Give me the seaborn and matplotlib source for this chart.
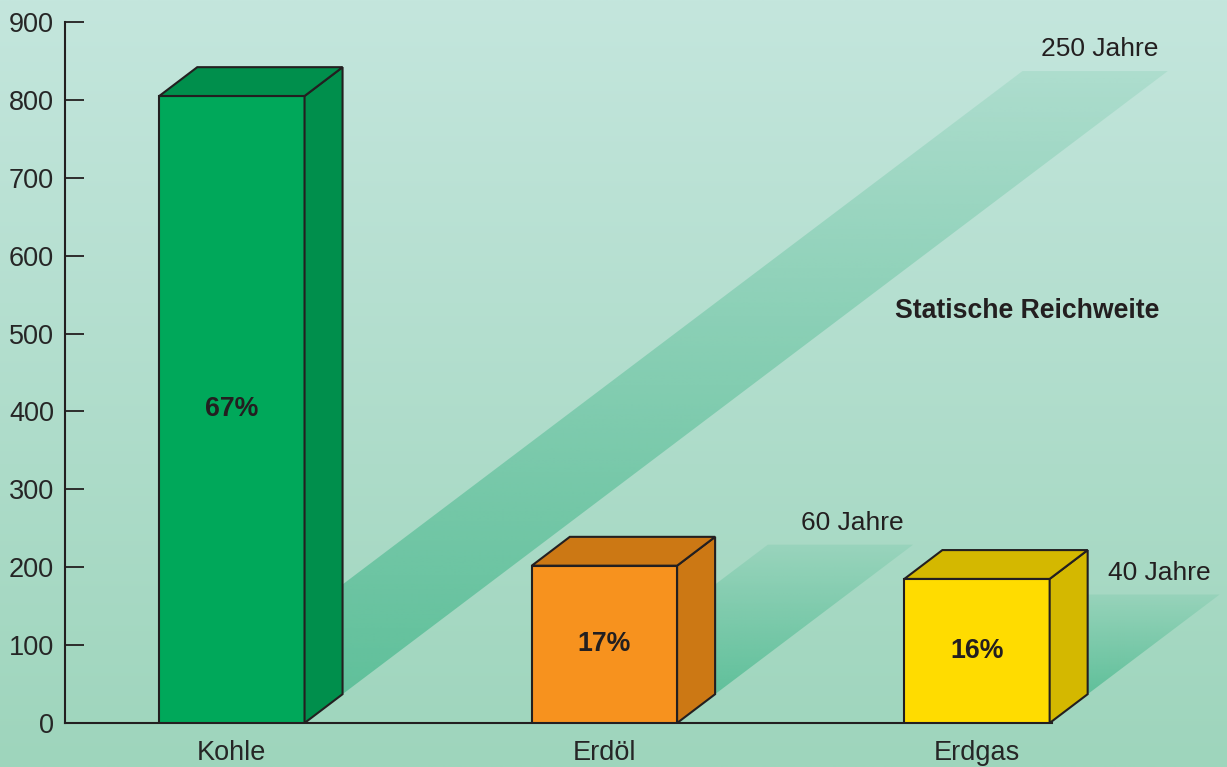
import matplotlib
matplotlib.use("Agg")
import matplotlib.pyplot as plt
from matplotlib.patches import Polygon
import numpy as np
import seaborn as sns

# data
categories = ["Kohle", "Erdöl", "Erdgas"]
reserves = [805, 202, 185]
shares = ["67%", "17%", "16%"]
reach_years = [250, 60, 40]
reach_labels = ["250 Jahre", "60 Jahre", "40 Jahre"]

front_colors = ["#00a85a", "#f7921e", "#ffdc00"]
side_colors = ["#008f4c", "#cc7814", "#d4b800"]
edge = "#231f20"

sns.set_style("white")
plt.rcParams["font.family"] = ["Liberation Sans", "DejaVu Sans"]
plt.rcParams["text.color"] = edge

fig = plt.figure(figsize=(12.27, 7.67), dpi=100)

# background gradient
bg = fig.add_axes([0, 0, 1, 1], zorder=0)
top_c = np.array([196, 230, 221]) / 255
bot_c = np.array([158, 213, 188]) / 255
t = np.linspace(0, 1, 256)[:, None]
grad = top_c[None, None, :] * (1 - t[..., None]) + bot_c[None, None, :] * t[..., None]
bg.imshow(np.repeat(grad, 2, axis=1), aspect="auto", extent=[0, 1, 0, 1])
bg.axis("off")

ax = fig.add_axes([65 / 1227, 44 / 767, 1162 / 1227, 701 / 767], zorder=1)
ax.patch.set_alpha(0)

sns.barplot(x=categories, y=reserves, hue=categories, palette=front_colors,
            width=0.39, edgecolor=edge, linewidth=1.5, legend=False,
            saturation=1, ax=ax, zorder=4)

ax.set_xlim(-0.448, 2.671)
ax.set_ylim(0, 900)

# depth of the 3d boxes and slope of the ribbons
dx, dy = 0.102, 37.0
kx, ky = 0.00886, 3.2

rib_rgb = np.array([60, 180, 135]) / 255
for i, p in enumerate(ax.patches[:3]):
    x0, w, h = p.get_x(), p.get_width(), p.get_height()
    x1 = x0 + w
    side = Polygon([(x1, 0), (x1 + dx, dy), (x1 + dx, h + dy), (x1, h)],
                   closed=True, fc=side_colors[i], ec=edge, lw=1.5, zorder=4)
    top = Polygon([(x0, h), (x0 + dx, h + dy), (x1 + dx, h + dy), (x1, h)],
                  closed=True, fc=side_colors[i], ec=edge, lw=1.5, zorder=4)
    ax.add_patch(side)
    ax.add_patch(top)

    # ribbon for the static range
    yrs = reach_years[i]
    rx, ry = yrs * kx, yrs * ky
    verts = [(x0 + dx, dy), (x1 + dx, dy), (x1 + dx + rx, dy + ry), (x0 + dx + rx, dy + ry)]
    rib = Polygon(verts, closed=True, fc="none", ec="none")
    ax.add_patch(rib)
    tt = np.linspace(0, 1, 200)[:, None]
    alpha = 0.14 + 0.5 * tt
    img = np.zeros((200, 2, 4))
    img[..., :3] = rib_rgb
    img[..., 3] = alpha
    im = ax.imshow(img, aspect="auto", extent=[x0 + dx, x1 + dx + rx, dy, dy + ry],
                   zorder=2, interpolation="bilinear")
    im.set_clip_path(rib)

    ax.text(x1 + dx + rx - 0.025, dy + ry + 19, reach_labels[i],
            ha="right", va="baseline", fontsize=19)
    ax.text(x0 + w / 2, h / 2, shares[i], ha="center", va="center",
            fontsize=19.3, fontweight="bold", zorder=5)

ax.text(2.134, 529, "Statische Reichweite", ha="center", va="center",
        fontsize=19.2, fontweight="bold")

ax.set_aspect("auto")
ax.set_xlim(-0.448, 2.671)
ax.set_ylim(0, 900)
ax.set_yticks(range(0, 901, 100))
ax.tick_params(axis="y", direction="in", length=14, width=1.3, color=edge,
               labelsize=19.5, pad=8, left=True)
ax.tick_params(axis="x", length=0, labelsize=19.5, pad=12)
for s in ["top", "right"]:
    ax.spines[s].set_visible(False)
for s in ["left", "bottom"]:
    ax.spines[s].set_color(edge)
    ax.spines[s].set_linewidth(1.5)
ax.spines["bottom"].set_bounds(-0.448, 2.2)
ax.set_xlabel("")
ax.set_ylabel("")

fig.savefig("out.png", dpi=100)
